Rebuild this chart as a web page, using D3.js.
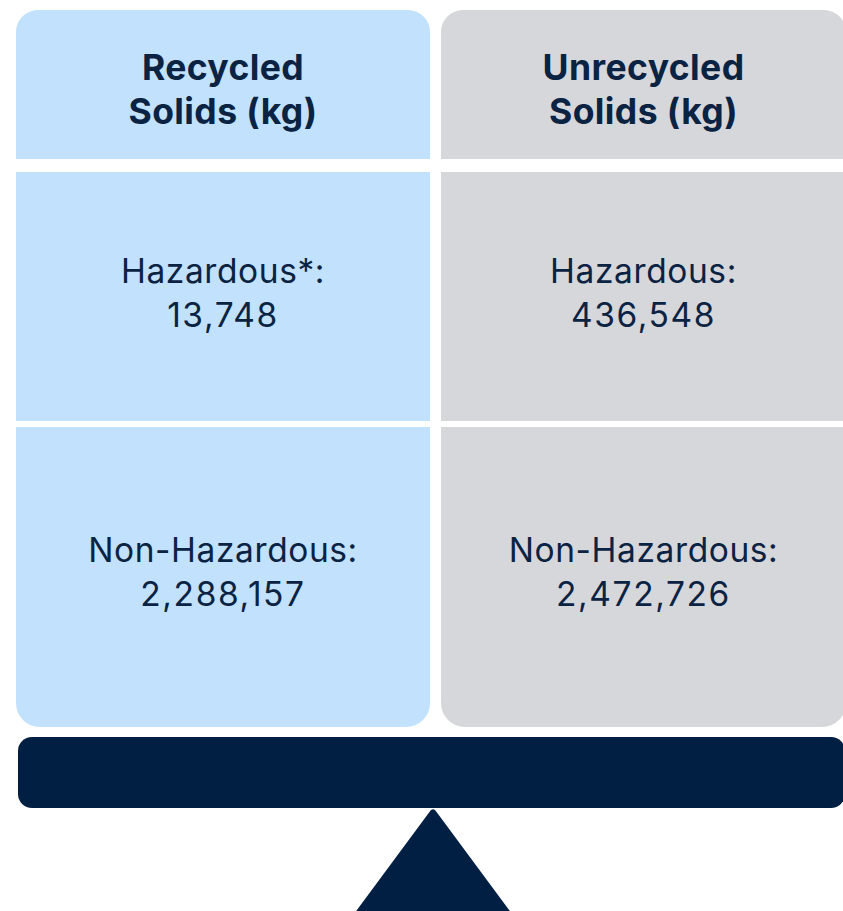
<!DOCTYPE html>
<html>
<head>
<meta charset="utf-8">
<script src="https://cdn.jsdelivr.net/npm/d3@7"></script>
<style>
  html, body { margin: 0; padding: 0; background: #fff; }
  svg { display: block; }
</style>
</head>
<body>
<div id="chart"></div>
<script>
// data
const columns = ["Recycled Solids (kg)", "Unrecycled Solids (kg)"];
const headerLines = [["Recycled", "Solids (kg)"], ["Unrecycled", "Solids (kg)"]];
const categories = ["Hazardous", "Non-Hazardous"];
const recycledValues = [13748, 2288157];
const unrecycledValues = [436548, 2472726];
const footnoteMarks = [["*", ""], ["", ""]];

const width = 843, height = 911;
const colors = {recycled: "#c1e1fd", unrecycled: "#d6d7db", navy: "#001f42", text: "#0b2343"};
const fontFamily = "Inter, 'Open Sans', sans-serif";

const svg = d3.select("#chart").append("svg")
    .attr("width", width)
    .attr("height", height)
    .attr("viewBox", `0 0 ${width} ${height}`);

// layout of the columns (left edge + width) and rows (top + height)
const colX = d3.scaleOrdinal().domain(columns).range([16, 441]);
const colW = d3.scaleOrdinal().domain(columns).range([414, 405]);
const rows = ["header"].concat(categories);
const rowY = d3.scaleOrdinal().domain(rows).range([10, 172, 427]);
const rowH = d3.scaleOrdinal().domain(rows).range([149, 249, 300]);

const fmt = d3.format(",");

// rect with selectable rounded corners
function roundedRect(x, y, w, h, tl, tr, br, bl) {
    const p = d3.path();
    p.moveTo(x + tl, y);
    p.lineTo(x + w - tr, y);
    if (tr) p.arcTo(x + w, y, x + w, y + tr, tr);
    p.lineTo(x + w, y + h - br);
    if (br) p.arcTo(x + w, y + h, x + w - br, y + h, br);
    p.lineTo(x + bl, y + h);
    if (bl) p.arcTo(x, y + h, x, y + h - bl, bl);
    p.lineTo(x, y + tl);
    if (tl) p.arcTo(x, y, x + tl, y, tl);
    p.closePath();
    return p.toString();
}

const tableData = columns.map((c, i) => ({
    column: c,
    header: headerLines[i],
    fill: i === 0 ? colors.recycled : colors.unrecycled,
    cells: categories.map((cat, j) => ({
        row: cat,
        label: cat + footnoteMarks[i][j] + ":",
        value: (i === 0 ? recycledValues : unrecycledValues)[j]
    }))
}));

const col = svg.selectAll("g.col")
    .data(tableData)
    .join("g")
    .attr("class", "col");

// header cell
col.append("path")
    .attr("d", d => roundedRect(colX(d.column), rowY("header"), colW(d.column), rowH("header"), 22, 22, 0, 0))
    .attr("fill", d => d.fill);

col.append("text")
    .attr("text-anchor", "middle")
    .attr("font-family", fontFamily)
    .attr("font-weight", 700)
    .attr("font-size", 35.5)
    .attr("letter-spacing", 0.4)
    .attr("fill", colors.text)
    .selectAll("tspan")
    .data(d => d.header.map(t => ({t, x: colX(d.column) + colW(d.column) / 2})))
    .join("tspan")
    .attr("x", d => d.x)
    .attr("y", (d, i) => rowY("header") + 70 + i * 44)
    .text(d => d.t);

// value cells
col.each(function(d) {
    const g = d3.select(this);
    const cx = colX(d.column) + colW(d.column) / 2;
    d.cells.forEach((cell, j) => {
        const last = j === d.cells.length - 1;
        const y0 = rowY(cell.row), h = rowH(cell.row);
        g.append("path")
            .attr("d", roundedRect(colX(d.column), y0, colW(d.column), h, 0, 0, last ? 24 : 0, last ? 24 : 0))
            .attr("fill", d.fill);
        const t = g.append("text")
            .attr("text-anchor", "middle")
            .attr("font-family", fontFamily)
            .attr("font-size", 33.5)
            .attr("letter-spacing", 0.6)
            .attr("fill", colors.text);
        const base = last ? y0 + 135 : y0 + 111;
        t.append("tspan").attr("x", cx).attr("y", base).text(cell.label);
        t.append("tspan").attr("x", cx).attr("y", base + 44)
            .attr("letter-spacing", 1.6)
            .text(fmt(cell.value));
    });
});

// balance beam
svg.append("path")
    .attr("d", roundedRect(18, 737, 827, 71, 14, 14, 14, 14))
    .attr("fill", colors.navy);

// fulcrum
const tri = [[433, 813], [359, 913], [507, 913]];
svg.append("path")
    .attr("d", d3.line()(tri) + "Z")
    .attr("fill", colors.navy)
    .attr("stroke", colors.navy)
    .attr("stroke-width", 7)
    .attr("stroke-linejoin", "round");
</script>
</body>
</html>
